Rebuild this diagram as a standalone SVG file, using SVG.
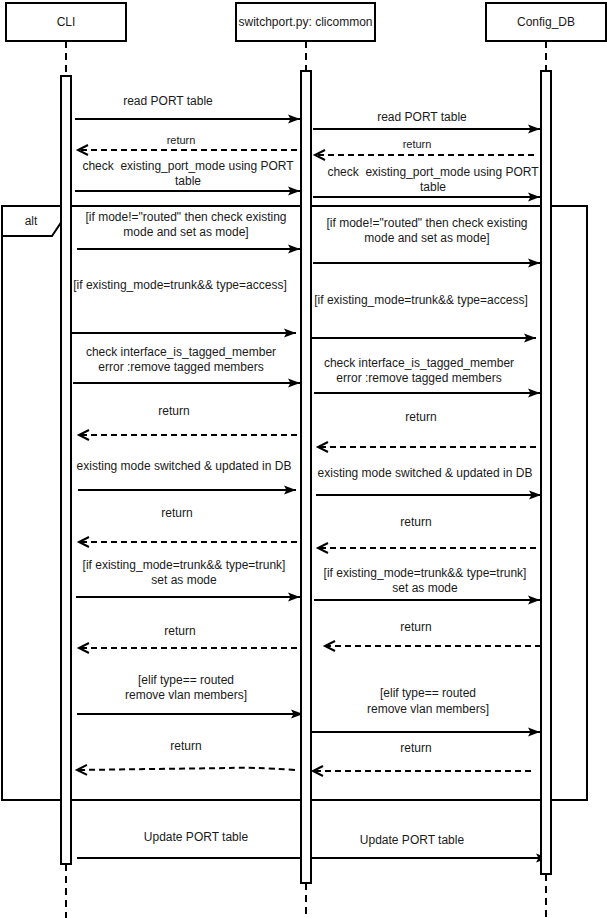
<svg xmlns="http://www.w3.org/2000/svg" width="607" height="918" viewBox="0 0 607 918">
<style>
text{font-family:"Liberation Sans",Arial,sans-serif;font-size:12px;fill:#1a1a1a;text-anchor:middle}
.sm{font-size:11px}
.pre{white-space:pre}
.box{fill:#fff;stroke:#000;stroke-width:2}
.life{stroke:#000;stroke-width:2;stroke-dasharray:7 5;fill:none}
.msg{stroke:#000;stroke-width:2;fill:none;marker-end:url(#fill)}
.ret{stroke:#000;stroke-width:2;fill:none;stroke-dasharray:6 4;marker-end:url(#open)}
.frame{fill:none;stroke:#000;stroke-width:2}
</style>
<defs>
<marker id="fill" markerUnits="userSpaceOnUse" markerWidth="14" markerHeight="10" refX="12" refY="4.5" orient="auto" overflow="visible">
<path d="M0,0 L12,4.5 L0,9 L2.5,4.5 z" fill="#000"/>
</marker>
<marker id="open" markerUnits="userSpaceOnUse" markerWidth="12" markerHeight="12" refX="10" refY="5" orient="auto" overflow="visible">
<path d="M0,0 L10,5 L0,10" fill="none" stroke="#000" stroke-width="2"/>
</marker>
</defs>
<rect width="607" height="918" fill="#fff"/>
<g id="alt-frame">
<rect class="frame" x="2" y="206" width="585" height="594"/>
<path class="frame" d="M2,236 L52,236 L62,221 L62,206"/>
<text x="31" y="225">alt</text>
</g>
<g id="lifelines">
<line class="life" x1="66" y1="41" x2="66" y2="76"/>
<line class="life" x1="66" y1="864" x2="66" y2="918"/>
<line class="life" x1="306" y1="41" x2="306" y2="71"/>
<line class="life" x1="306" y1="883" x2="306" y2="918"/>
<line class="life" x1="546" y1="41" x2="546" y2="71"/>
<line class="life" x1="546" y1="874" x2="546" y2="918"/>
</g>
<g id="connectors">
<line class="msg" x1="75" y1="119" x2="300" y2="119"/>
<line class="msg" x1="313" y1="129" x2="540" y2="129"/>
<line class="ret" x1="297" y1="150" x2="78" y2="150"/>
<line class="ret" x1="534" y1="155" x2="315" y2="155"/>
<line class="msg" x1="75" y1="191" x2="300" y2="191"/>
<line class="msg" x1="313" y1="197" x2="540" y2="197"/>
<line class="msg" x1="77" y1="249" x2="300" y2="249"/>
<line class="msg" x1="313" y1="263" x2="540" y2="263"/>
<line class="msg" x1="71" y1="333" x2="296" y2="333"/>
<line class="msg" x1="310" y1="338" x2="536" y2="338"/>
<line class="msg" x1="73" y1="383" x2="300" y2="383"/>
<line class="msg" x1="314" y1="393" x2="540" y2="393"/>
<line class="ret" x1="297" y1="435" x2="79" y2="435"/>
<line class="ret" x1="536" y1="447" x2="318" y2="447"/>
<line class="msg" x1="78" y1="490" x2="296" y2="490"/>
<line class="msg" x1="316" y1="495" x2="541" y2="495"/>
<line class="ret" x1="297" y1="542" x2="79" y2="542"/>
<line class="ret" x1="536" y1="548" x2="318" y2="548"/>
<line class="msg" x1="76" y1="597" x2="300" y2="597"/>
<line class="msg" x1="314" y1="600" x2="540" y2="600"/>
<line class="ret" x1="297" y1="648" x2="79" y2="648"/>
<line class="ret" x1="541" y1="646" x2="325" y2="646"/>
<line class="msg" x1="77" y1="714" x2="303" y2="714"/>
<line class="msg" x1="312" y1="732" x2="540" y2="732"/>
<path class="ret" d="M295,770 Q250,767 230,768 L77,770"/>
<line class="ret" x1="531" y1="771" x2="313" y2="771"/>
<line class="msg" x1="77" y1="858" x2="548" y2="858"/>
</g>
<g id="bars">
<rect class="box" x="61" y="76" width="10" height="788"/>
<rect class="box" x="301" y="71" width="10" height="812"/>
<rect class="box" x="541" y="71" width="10" height="803"/>
</g>
<g id="cli">
<rect class="box" x="6" y="3" width="120" height="38"/>
<text x="66" y="26">CLI</text>
</g>
<g id="switchport">
<rect class="box" x="236" y="3" width="139" height="38"/>
<text x="305.5" y="26">switchport.py: clicommon</text>
</g>
<g id="configdb">
<rect class="box" x="486" y="3" width="120" height="38"/>
<text x="546" y="26">Config_DB</text>
</g>
<g id="labels">
<text x="168" y="105">read PORT table</text>
<text x="422" y="121">read PORT table</text>
<text class="sm" x="181" y="144">return</text>
<text class="sm" x="417" y="148">return</text>
<text class="pre" x="188" y="170">check  existing_port_mode using PORT</text>
<text x="188" y="185">table</text>
<text class="pre" x="433" y="176">check  existing_port_mode using PORT</text>
<text x="433" y="191">table</text>
<text x="186" y="221">[if mode!="routed" then check existing</text>
<text x="186" y="236">mode and set as mode]</text>
<text x="427" y="227">[if mode!="routed" then check existing</text>
<text x="427" y="242">mode and set as mode]</text>
<text x="180" y="289">[if existing_mode=trunk&amp;&amp; type=access]</text>
<text x="421" y="304">[if existing_mode=trunk&amp;&amp; type=access]</text>
<text x="181" y="356">check interface_is_tagged_member</text>
<text x="181" y="371">error :remove tagged members</text>
<text x="419" y="367">check interface_is_tagged_member</text>
<text x="419" y="382">error :remove tagged members</text>
<text x="174" y="415">return</text>
<text x="421" y="421">return</text>
<text x="184" y="470">existing mode switched &amp; updated in DB</text>
<text x="425" y="477">existing mode switched &amp; updated in DB</text>
<text x="177" y="517">return</text>
<text x="416" y="526">return</text>
<text x="184" y="569">[if existing_mode=trunk&amp;&amp; type=trunk]</text>
<text x="184" y="584">set as mode</text>
<text x="425" y="577">[if existing_mode=trunk&amp;&amp; type=trunk]</text>
<text x="425" y="592">set as mode</text>
<text x="180" y="635">return</text>
<text x="416" y="631">return</text>
<text x="186" y="684">[elif type== routed</text>
<text x="186" y="699">remove vlan members]</text>
<text x="428" y="697">[elif type== routed</text>
<text x="428" y="713">remove vlan members]</text>
<text x="186" y="750">return</text>
<text x="416" y="752">return</text>
<text x="196" y="841">Update PORT table</text>
<text x="412" y="844">Update PORT table</text>
</g>
</svg>
